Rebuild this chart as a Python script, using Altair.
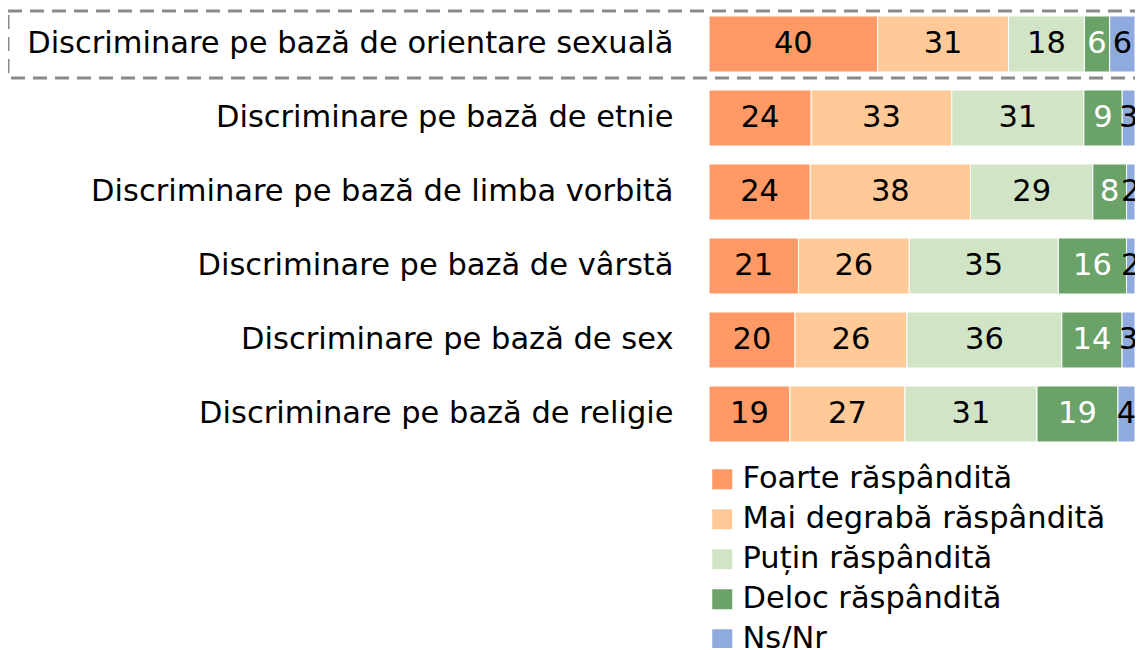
import altair as alt
import pandas as pd

categories = [
    "Discriminare pe bază de orientare sexuală",
    "Discriminare pe bază de etnie",
    "Discriminare pe bază de limba vorbită",
    "Discriminare pe bază de vârstă",
    "Discriminare pe bază de sex",
    "Discriminare pe bază de religie",
]
series = ["Foarte răspândită", "Mai degrabă răspândită", "Puțin răspândită",
          "Deloc răspândită", "Nș/Nr"]
foarte = [40, 24, 24, 21, 20, 19]
mai_degraba = [31, 33, 38, 26, 26, 27]
putin = [18, 31, 29, 35, 36, 31]
deloc = [6, 9, 8, 16, 14, 19]
nsnr = [6, 3, 2, 2, 3, 4]
colors = ["#FF9966", "#FFC998", "#D1E5C6", "#6BA268", "#8FAADC"]
text_colors = ["black", "black", "black", "white", "black"]

rows = []
for i, c in enumerate(categories):
    for j, (s, vals) in enumerate(zip(series, [foarte, mai_degraba, putin, deloc, nsnr])):
        rows.append({"cat": c, "series": s, "value": vals[i], "order": j,
                     "tcol": text_colors[j]})
df = pd.DataFrame(rows)

FONT = "DejaVu Sans"
FS = 30.5

base = alt.Chart(df).transform_stack(
    stack="value", groupby=["cat"], as_=["x0", "x1"], offset="normalize",
    sort=[alt.SortField("order", "ascending")]
).transform_calculate(
    mid="(datum.x0 + datum.x1) / 2"
).transform_calculate(
    tx="min(datum.mid, 0.99)"
)

y_enc = alt.Y("cat:N", sort=categories, title=None,
              scale=alt.Scale(paddingInner=0.243, paddingOuter=0.108),
              axis=alt.Axis(domain=False, ticks=False, labelFontSize=FS,
                            labelFont=FONT, labelColor="black", labelPadding=36,
                            labelLimit=800))

bars = base.mark_bar(stroke="white", strokeWidth=1).encode(
    x=alt.X("x0:Q", axis=None, scale=alt.Scale(domain=[0, 1])),
    x2="x1:Q",
    y=y_enc,
    color=alt.Color("series:N", sort=series,
                    scale=alt.Scale(domain=series, range=colors),
                    legend=alt.Legend(title=None, orient="none", legendX=-2, legendY=456,
                                      symbolType="square", symbolSize=400,
                                      symbolStrokeWidth=0, labelFontSize=FS,
                                      labelFont=FONT, labelColor="black",
                                      labelOffset=5, rowPadding=9, labelLimit=600)),
)

labels = base.mark_text(fontSize=FS, font=FONT, baseline="middle", align="center").encode(
    x=alt.X("tx:Q"),
    y=alt.Y("cat:N", sort=categories),
    text=alt.Text("value:Q"),
    color=alt.Color("tcol:N", scale=None),
)

box = alt.Chart(pd.DataFrame({"a": [0]})).mark_rect(
    fill=None, stroke="#8a8a8a", strokeWidth=3, strokeDash=[14, 8]
).encode(x=alt.value(-701), x2=alt.value(440), y=alt.value(3), y2=alt.value(70))

chart = alt.layer(bars, labels, box).properties(
    width=426, height=442,
    autosize=alt.AutoSizeParams(type="none"),
    padding={"left": 701, "top": 0, "right": 0, "bottom": 198},
).configure_view(stroke=None)

chart.save("out.html", embed_options={"renderer": "svg", "actions": False})
